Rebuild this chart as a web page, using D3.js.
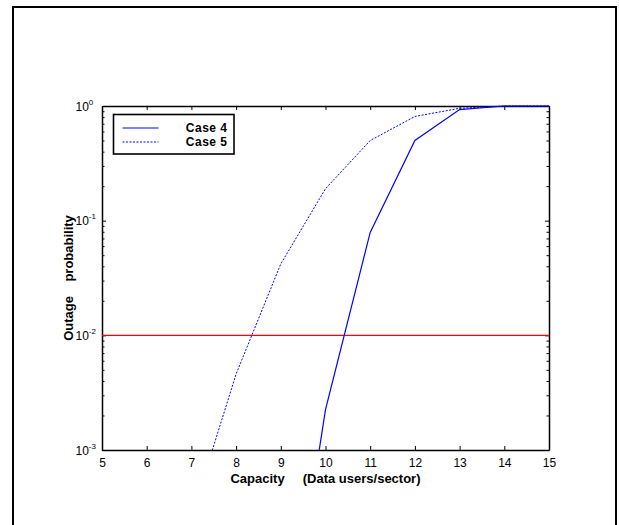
<!DOCTYPE html>
<html>
<head>
<meta charset="utf-8">
<script src="https://cdn.jsdelivr.net/npm/d3@7"></script>
<style>
  body { margin: 0; background: #fff; }
  svg { display: block; font-family: Arial, 'Liberation Sans', sans-serif; }
  .tick text { font-size: 12px; fill: #000; }
  .domain { stroke: #000; }
</style>
</head>
<body>
<script>
// capacity (data users/sector) and outage probability
let case4X = [9, 10, 11, 12, 13, 14, 15]
let case4Y = [7e-6, 0.00225, 0.079, 0.50, 0.93, 1.0, 1.0]

let case5X = [7, 8, 9, 10, 11, 12, 13, 14, 15]
let case5Y = [2.6e-4, 0.0046, 0.042, 0.19, 0.50, 0.81, 0.955, 1.0, 1.0]

let threshold = 0.01

let xTicks = [5, 6, 7, 8, 9, 10, 11, 12, 13, 14, 15]
let yTicks = [1e-3, 1e-2, 1e-1, 1]
let yExponents = ['-3', '-2', '-1', '0']
let legendLabels = ['Case 4', 'Case 5']

let width = 619
let height = 525
let plotLeft = 102
let plotRight = 549
let plotTop = 106
let plotBottom = 450

let svg = d3.select('body')
    .append('svg')
    .attr('width', width)
    .attr('height', height)

// outer frame
svg.append('rect')
    .attr('x', 13)
    .attr('y', 7)
    .attr('width', 603)
    .attr('height', 600)
    .attr('fill', 'none')
    .attr('stroke', '#000')
    .attr('stroke-width', 2)

let xScale = d3.scaleLinear()
    .domain([5, 15])
    .range([plotLeft, plotRight])

let yScale = d3.scaleLog()
    .domain([1e-3, 1])
    .range([plotBottom, plotTop])

// minor ticks on log axis
let minorTicks = []
yTicks.slice(0, -1).forEach(d => {
    for (let k = 2; k <= 9; k++) minorTicks.push(d * k)
})

// axes, ticks pointing inward on all four sides
let xAxis = d3.axisBottom(xScale)
    .tickValues(xTicks)
    .tickSizeInner(-4)
    .tickSizeOuter(0)
    .tickPadding(8)
    .tickFormat(d3.format('d'))

svg.append('g')
    .attr('id', 'x-axis')
    .attr('transform', 'translate(0, ' + plotBottom + ')')
    .call(xAxis)

svg.append('g')
    .attr('transform', 'translate(0, ' + plotTop + ')')
    .call(d3.axisTop(xScale).tickValues(xTicks).tickSizeInner(-4).tickSizeOuter(0).tickFormat(''))

let yAxis = d3.axisLeft(yScale)
    .tickValues(yTicks)
    .tickSizeInner(-4)
    .tickSizeOuter(0)
    .tickFormat('')

svg.append('g')
    .attr('id', 'y-axis')
    .attr('transform', 'translate(' + plotLeft + ', 0)')
    .call(yAxis)

svg.append('g')
    .attr('transform', 'translate(' + plotLeft + ', 0)')
    .call(d3.axisLeft(yScale).tickValues(minorTicks).tickSizeInner(-2.5).tickSizeOuter(0).tickFormat(''))
    .select('.domain').remove()

svg.append('g')
    .attr('transform', 'translate(' + plotRight + ', 0)')
    .call(d3.axisRight(yScale).tickValues(yTicks).tickSizeInner(-4).tickSizeOuter(0).tickFormat(''))

svg.append('g')
    .attr('transform', 'translate(' + plotRight + ', 0)')
    .call(d3.axisRight(yScale).tickValues(minorTicks).tickSizeInner(-2.5).tickSizeOuter(0).tickFormat(''))
    .select('.domain').remove()

svg.selectAll('.domain').attr('stroke-width', 1.5)

// curves drawn over the axes, clipped to the plot box
svg.append('defs')
    .append('clipPath')
    .attr('id', 'plot-clip')
    .append('rect')
    .attr('x', plotLeft)
    .attr('y', plotTop - 1)
    .attr('width', plotRight - plotLeft)
    .attr('height', plotBottom - plotTop + 1)

let plot = svg.append('g').attr('clip-path', 'url(#plot-clip)')

// threshold line
plot.append('line')
    .attr('x1', xScale(5))
    .attr('x2', xScale(15))
    .attr('y1', yScale(threshold))
    .attr('y2', yScale(threshold))
    .attr('stroke', '#ff0000')
    .attr('stroke-width', 1.2)

let line = d3.line()
    .x(d => xScale(d[0]))
    .y(d => yScale(d[1]))

plot.append('path')
    .datum(d3.zip(case5X, case5Y))
    .attr('d', line)
    .attr('fill', 'none')
    .attr('stroke', '#0000ff')
    .attr('stroke-width', 1)
    .attr('stroke-dasharray', '2,1.5')

plot.append('path')
    .datum(d3.zip(case4X, case4Y))
    .attr('d', line)
    .attr('fill', 'none')
    .attr('stroke', '#0000ff')
    .attr('stroke-width', 1.2)

// y tick labels as 10 with superscript exponent
yTicks.forEach((d, i) => {
    let t = svg.append('text')
        .attr('x', 75.5)
        .attr('y', yScale(d) + 4.5)
        .style('font-size', '12px')
    t.append('tspan').text('10')
    t.append('tspan')
        .attr('dy', -6)
        .style('font-size', '8px')
        .text(yExponents[i])
})

// axis titles
svg.append('text')
    .attr('x', (plotLeft + plotRight) / 2)
    .attr('y', 483)
    .attr('text-anchor', 'middle')
    .style('font-size', '13px')
    .style('font-weight', 'bold')
    .style('white-space', 'pre')
    .text('Capacity     (Data users/sector)')

svg.append('text')
    .attr('transform', 'translate(73, ' + (plotTop + plotBottom) / 2 + ') rotate(-90)')
    .attr('text-anchor', 'middle')
    .style('font-size', '13px')
    .style('font-weight', 'bold')
    .style('white-space', 'pre')
    .text('Outage    probability')

// legend
let legend = svg.append('g')

legend.append('rect')
    .attr('x', 113.5)
    .attr('y', 114.5)
    .attr('width', 120.5)
    .attr('height', 39.5)
    .attr('fill', '#fff')
    .attr('stroke', '#000')
    .attr('stroke-width', 1.6)

legendLabels.forEach((label, i) => {
    let yPos = 128 + i * 14
    legend.append('line')
        .attr('x1', 122.5)
        .attr('x2', 158.5)
        .attr('y1', yPos)
        .attr('y2', yPos)
        .attr('stroke', '#0000ff')
        .attr('stroke-width', 1.2)
        .attr('stroke-dasharray', i === 1 ? '2,1.5' : null)
    legend.append('text')
        .attr('x', 227.5)
        .attr('y', yPos + 4.3)
        .attr('text-anchor', 'end')
        .style('font-size', '12px')
        .style('font-weight', 'bold')
        .style('letter-spacing', '0.5px')
        .text(label)
})
</script>
</body>
</html>
